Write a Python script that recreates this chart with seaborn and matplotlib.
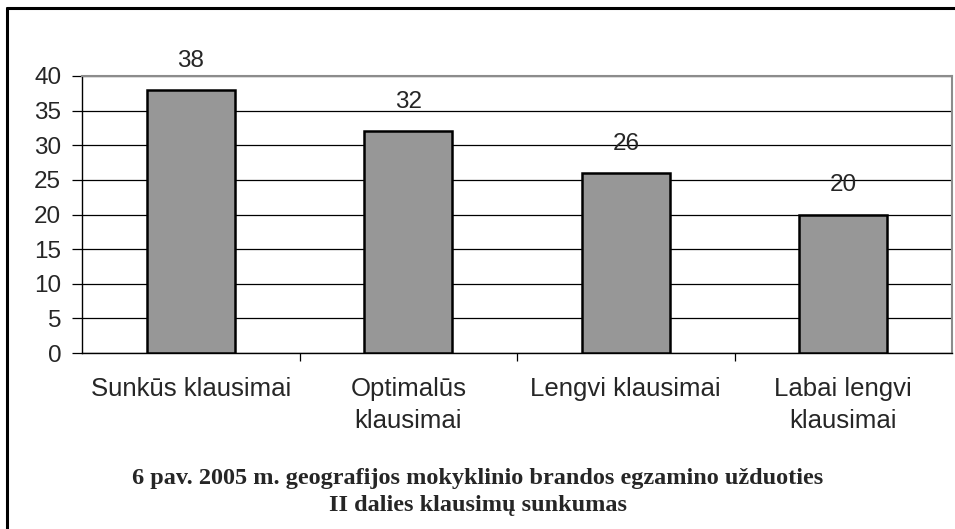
import matplotlib
matplotlib.use("Agg")
import matplotlib.pyplot as plt
import seaborn as sns
import pandas as pd
from matplotlib.lines import Line2D

categories = ["Sunkūs klausimai", "Optimalūs\nklausimai", "Lengvi klausimai", "Labai lengvi\nklausimai"]
values = [38, 32, 26, 20]
yticks = [0, 5, 10, 15, 20, 25, 30, 35, 40]
caption = "6 pav. 2005 m. geografijos mokyklinio brandos egzamino užduoties\nII dalies klausimų sunkumas"

df = pd.DataFrame({"cat": categories, "val": values})

sns.set_style("white")
plt.rcParams['font.family'] = ['Liberation Sans', 'DejaVu Sans']

fig = plt.figure(figsize=(9.55, 5.29), dpi=100)
ax = fig.add_axes([82/955, 1-353/529, (952-82)/955, (353-76)/529])

sns.barplot(data=df, x="cat", y="val", ax=ax, color="#979797", width=0.405,
            edgecolor="black", linewidth=1.8, saturation=1, zorder=3)

ax.set_ylim(0, 40)
ax.set_xlim(-0.5, 3.5)
ax.set_yticks(yticks)
ax.set_yticklabels([str(t) for t in yticks], fontsize=17.5)
ax.yaxis.grid(True, color="black", linewidth=0.9, zorder=0)
ax.set_axisbelow(True)
ax.set_xlabel("")
ax.set_ylabel("")

ax.set_xticks([0, 1, 2, 3])
ax.set_xticklabels(categories, fontsize=18.5, linespacing=1.42)
ax.tick_params(axis="x", length=0, pad=17)
ax.tick_params(axis="y", length=7, width=0.9, color="black", direction="out", pad=8, left=True)
# category boundary ticks
ax.set_xticks([0.5, 1.5, 2.5], minor=True)
ax.tick_params(axis="x", which="minor", length=6, width=0.9, color="black", direction="out", bottom=True)

for s in ["left", "bottom"]:
    ax.spines[s].set_color("black")
    ax.spines[s].set_linewidth(1.0)
for s in ["top", "right"]:
    ax.spines[s].set_visible(True)
    ax.spines[s].set_color("#8c8c8c")
    ax.spines[s].set_linewidth(1.5)

for i, v in enumerate(values):
    ax.annotate(str(v), xy=(i, v), xytext=(0, 13), textcoords="offset points",
                ha="center", va="bottom", fontsize=17.5)

fig.text(0.5, 1-492/529, caption, ha="center", va="center", fontsize=17.5,
         fontweight="bold", family=["Liberation Serif", "DejaVu Serif"], linespacing=1.32)

# outer frame (left and top)
fig.add_artist(Line2D([6.5/955, 6.5/955], [0, 1-7.5/529], color="black", linewidth=2.2, transform=fig.transFigure))
fig.add_artist(Line2D([6.5/955, 1], [1-7.5/529, 1-7.5/529], color="black", linewidth=2.2, transform=fig.transFigure))

fig.savefig("out.png", dpi=100)
